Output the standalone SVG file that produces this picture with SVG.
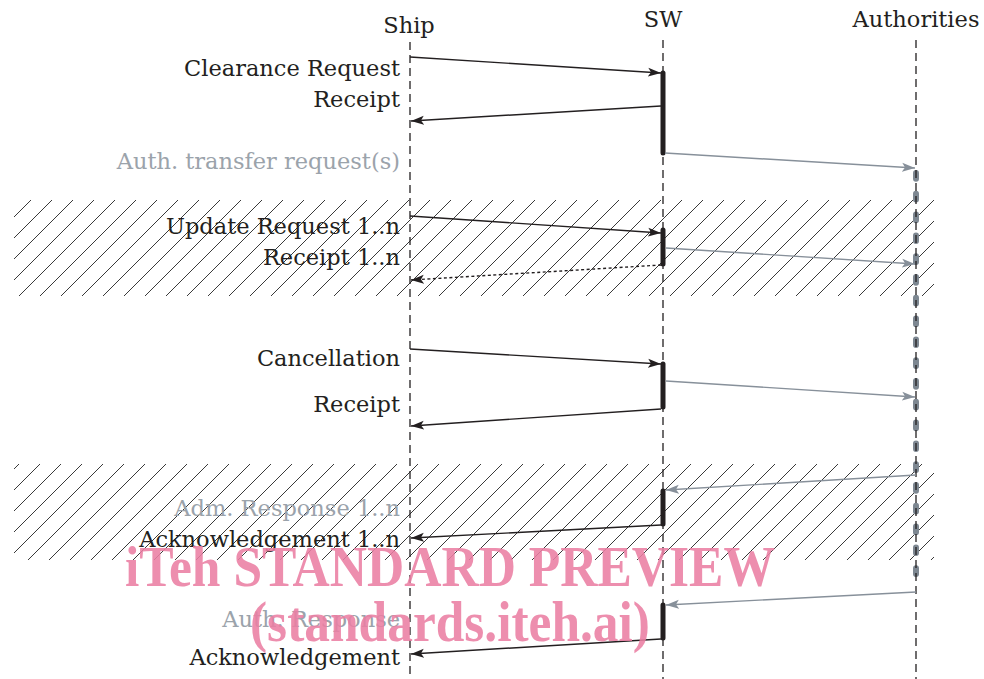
<svg xmlns="http://www.w3.org/2000/svg" width="984" height="679" viewBox="0 0 984 679">
<defs>
<style>
 .t{font-family:"DejaVu Serif","Liberation Serif",serif;font-size:22.5px;fill:#231f20}
 .g{fill:#9ba3ab}
 .r{text-anchor:end}
 .c{text-anchor:middle}
 .life{stroke:#231f20;stroke-width:1.3;stroke-dasharray:8 5;fill:none}
 .act{stroke:#231f20;stroke-width:5;stroke-linecap:round}
 .msg{stroke:#231f20;stroke-width:1.4;fill:none;marker-end:url(#ah)}
 .dot{stroke-dasharray:3 2.5}
 .gmsg{stroke:#87909a;stroke-width:1.4;fill:none;marker-end:url(#gh)}
 .wm{font-family:"Liberation Serif",serif;font-weight:bold;fill:#ea7ea3;fill-opacity:0.88}
</style>
<marker id="ah" markerUnits="userSpaceOnUse" markerWidth="14" markerHeight="10" refX="13" refY="5" orient="auto"><path d="M0,0.5 L13,5 L0,9.5 L3,5 z" fill="#231f20"/></marker>
<marker id="gh" markerUnits="userSpaceOnUse" markerWidth="14" markerHeight="10" refX="13" refY="5" orient="auto"><path d="M0,0.5 L13,5 L0,9.5 L3,5 z" fill="#87909a"/></marker>
<pattern id="hatch" patternUnits="userSpaceOnUse" width="21" height="21"><path d="M0,21 L21,0 M-2,2 L2,-2 M19,23 L23,19" stroke="#3a3a3a" stroke-width="1"/></pattern>
</defs>
<rect width="984" height="679" fill="#ffffff"/>
<g id="hatch-areas">
<rect x="14" y="200" width="920" height="96" fill="url(#hatch)"/>
<rect x="14" y="464" width="920" height="96" fill="url(#hatch)"/>
</g>
<g id="ship">
<text class="t c" x="409" y="33">Ship</text>
<line class="life" x1="410" y1="42" x2="410" y2="679"/>
</g>
<g id="sw">
<text class="t c" x="663" y="27">SW</text>
<line class="life" x1="663" y1="40" x2="663" y2="679"/>
<line class="act" x1="663" y1="73" x2="663" y2="153"/>
<line class="act" x1="663" y1="230" x2="663" y2="264"/>
<line class="act" x1="663" y1="364" x2="663" y2="407"/>
<line class="act" x1="663" y1="491" x2="663" y2="524"/>
<line class="act" x1="663" y1="605" x2="663" y2="638"/>
</g>
<g id="authorities">
<text class="t c" x="916" y="27">Authorities</text>
<line x1="916" y1="173" x2="916" y2="576" stroke="#7d8791" stroke-width="6" stroke-linecap="round" stroke-dasharray="5.7 15.1"/>
<line class="life" x1="916" y1="40" x2="916" y2="679"/>
</g>
<g id="connectors">
<path class="msg" d="M410,57 L661,73"/>
<path class="msg" d="M661,106 L411,121"/>
<path class="gmsg" d="M665,153 L915,168"/>
<path class="msg" d="M410,216 L661,233"/>
<path class="msg dot" d="M661,265 L411,280"/>
<path class="gmsg" d="M666,248 L915,264"/>
<path class="msg" d="M410,349 L661,364"/>
<path class="msg" d="M661,409 L411,426"/>
<path class="gmsg" d="M666,381 L915,397"/>
<path class="gmsg" d="M916,475 L666,490"/>
<path class="msg" d="M661,525 L411,538"/>
<path class="gmsg" d="M916,592 L666,605"/>
<path class="msg" d="M661,639 L411,654"/>
</g>
<g id="labels">
<text class="t r" x="400" y="76">Clearance Request</text>
<text class="t r" x="400" y="107">Receipt</text>
<text class="t r g" x="400" y="169">Auth. transfer request(s)</text>
<text class="t r" x="400" y="234">Update Request 1..n</text>
<text class="t r" x="400" y="265">Receipt 1..n</text>
<text class="t r" x="400" y="366">Cancellation</text>
<text class="t r" x="400" y="412">Receipt</text>
<text class="t r g" x="400" y="516">Adm. Response 1..n</text>
<text class="t r" x="400" y="547">Acknowledgement 1..n</text>
<text class="t r g" x="400" y="627">Auth. Response</text>
<text class="t r" x="400" y="665">Acknowledgement</text>
</g>
<g id="watermark">
<text class="wm" x="125" y="586" font-size="56" textLength="650" lengthAdjust="spacingAndGlyphs">iTeh STANDARD PREVIEW</text>
<text class="wm" x="250" y="641" font-size="56" textLength="400" lengthAdjust="spacingAndGlyphs">(standards.iteh.ai)</text>
</g>
</svg>
